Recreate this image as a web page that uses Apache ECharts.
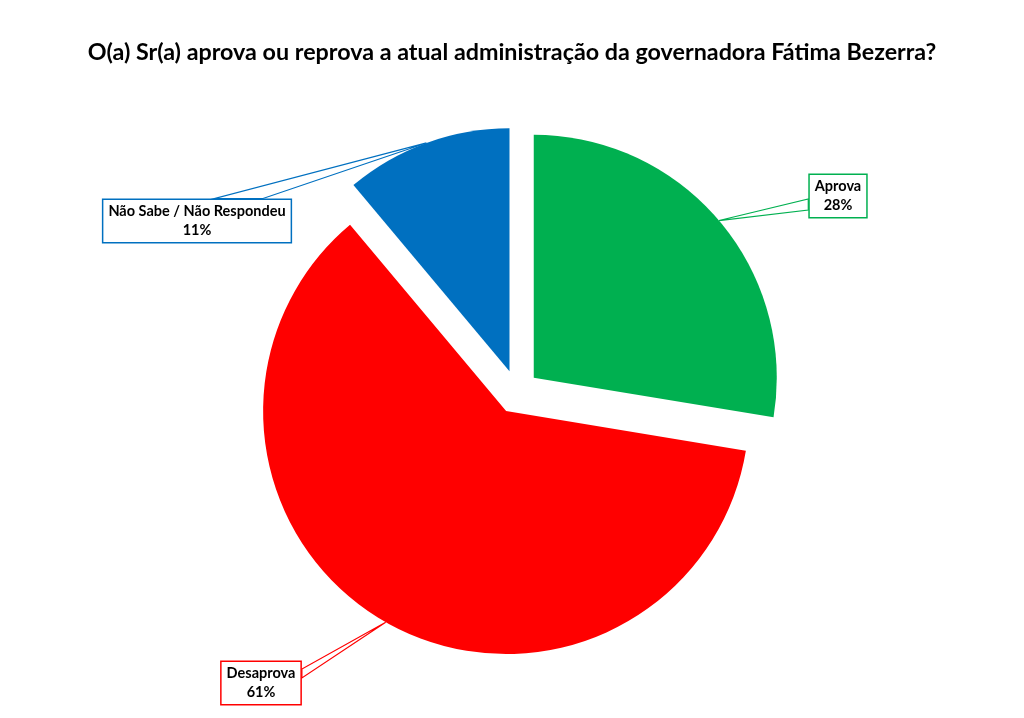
<!DOCTYPE html>
<html>
<head>
<meta charset="utf-8">
<script src="https://cdn.jsdelivr.net/npm/echarts@6/dist/echarts.min.js"></script>
<style>
html, body { margin: 0; padding: 0; background: #fff; }
#main { width: 1024px; height: 718px; }
</style>
</head>
<body>
<div id="main"></div>
<script>
var title = 'O(a) Sr(a) aprova ou reprova a atual administração da governadora Fátima Bezerra?';
var names = ['Aprova', 'Desaprova', 'Não Sabe / Não Respondeu'];
// slice sizes; labels show them rounded
var values = [27.6, 61.3, 11.1];
var colors = ['#00b050', '#ff0000', '#0070c0'];

// callout boxes: centre of box, side the wedge meets, and where along that side
var callouts = [
    { cx: 838, cy: 196, side: 'left', a: 3, b: 14 },
    { cx: 261, cy: 683, side: 'right', a: -14, b: -5 },
    { cx: 197, cy: 221, side: 'top', a: 18, b: 66 }
];

var sliceData = [], labelData = [];
for (var i = 0; i < names.length; i++) {
    sliceData.push({
        name: names[i],
        value: values[i],
        selected: true,
        itemStyle: { color: colors[i] }
    });
    labelData.push({
        name: names[i],
        value: values[i],
        label: { borderColor: colors[i] },
        labelLine: { lineStyle: { color: colors[i] } }
    });
}

var chart = echarts.init(document.getElementById('main'));
chart.setOption({
    backgroundColor: '#fff',
    animation: false,
    title: {
        text: title,
        left: 'center',
        top: 36,
        textStyle: { fontFamily: 'Lato', fontWeight: 'bold', fontSize: 23.3, color: '#000' }
    },
    series: [{
        type: 'pie',
        center: [517, 392],
        radius: 243,
        startAngle: 90,
        selectedMode: 'multiple',
        selectedOffset: 22,
        label: { show: false },
        labelLine: { show: false },
        data: sliceData
    }, {
        // invisible ring at the exploded radius, only carries the callouts
        type: 'pie',
        center: [517, 392],
        radius: 265,
        startAngle: 90,
        silent: true,
        z: 1,
        itemStyle: { color: 'rgba(0,0,0,0)' },
        data: labelData,
        label: {
            show: true,
            formatter: function (p) {
                return p.name + '\n' + Math.round(p.value) + '%';
            },
            fontFamily: 'Lato',
            fontWeight: 'bold',
            fontSize: 14.5,
            lineHeight: 19,
            color: '#000',
            backgroundColor: '#fff',
            borderWidth: 1.5,
            padding: [3, 5, 1, 5]
        },
        labelLine: { show: true, smooth: false, lineStyle: { width: 1.2 } },
        labelLayout: function (p) {
            var c = callouts[p.dataIndex];
            var w = p.labelRect.width, h = p.labelRect.height;
            var left = c.cx - w / 2, top = c.cy - h / 2;
            var A, B;
            if (c.side === 'left') {
                A = [left, c.cy + c.a]; B = [left, c.cy + c.b];
            } else if (c.side === 'right') {
                A = [left + w, c.cy + c.a]; B = [left + w, c.cy + c.b];
            } else {
                A = [c.cx + c.a, top]; B = [c.cx + c.b, top];
            }
            var tip = p.labelLinePoints ? p.labelLinePoints[0] : A;
            return {
                x: c.cx,
                y: c.cy,
                align: 'center',
                verticalAlign: 'middle',
                labelLinePoints: [tip, A, B, tip]
            };
        }
    }]
});
</script>
</body>
</html>
